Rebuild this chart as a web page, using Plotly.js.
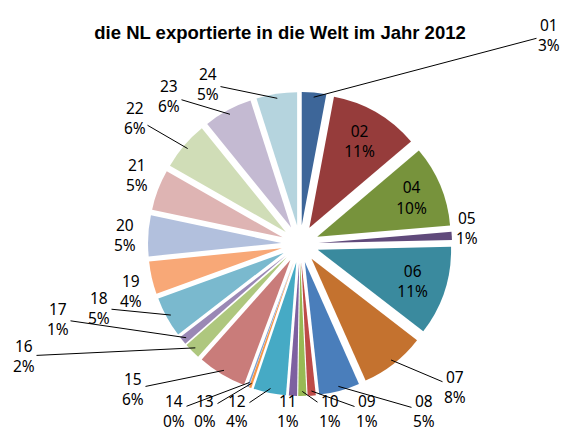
<!DOCTYPE html>
<html>
<head>
<meta charset="utf-8">
<script src="https://cdn.plot.ly/plotly-3.0.1.min.js"></script>
<style>html,body{margin:0;padding:0;background:#fff;}#chart{width:568px;height:429px;}</style>
</head>
<body>
<div id="chart"></div>
<script>
const categories = ["01","02","04","05","06","07","08","09","10","11","12","13","14","15","16","17","18","19","20","21","22","23","24"];
const shares = [3, 11, 10, 1, 11, 8, 5, 1, 1, 1, 4, 0.3, 0.2, 6, 2, 1, 5, 4, 5, 5, 6, 6, 5];
const colors = ["#3D6699","#963C3B","#77933C","#604A7B","#3A8A9E","#C4722F","#4A7EBB","#BE4B48","#98B954","#7D60A0","#46AAC5","#F79646","#7E9ECF","#C97C7A","#AEC77E","#9A88B5","#7AB9CE","#F8A877","#B2C0DD","#DEB4B3","#D0DDB7","#C4BAD2","#B5D4DE"];
const insideSet = ["02","04","06"];

// placement of the outside data labels (label centre in px, leader line yes/no)
const labelPlacement = {
  "01": [549, 35, true],  "05": [467, 228, false], "07": [455, 387, true], "08": [424, 411, true],
  "09": [367, 411, true], "10": [330, 411, true],  "11": [288, 411, true], "12": [237, 411, true],
  "13": [205, 411, true], "14": [174, 411, true],  "15": [133, 389, true], "16": [24, 356, true],
  "17": [58, 319, true],  "18": [99, 308, true],   "19": [131, 291, false], "20": [125, 235, false],
  "21": [137, 175, false], "22": [135, 118, true], "23": [169, 96, true],  "24": [208, 84, true]
};

const W = 568, H = 429;
const M = {l: 148, r: 116, t: 92, b: 33};
const PULL = 0.14;
const FONT = "Noto Sans, sans-serif";
const FS = 15.5;

const data = [{
  type: "pie",
  labels: categories,
  values: shares,
  sort: false,
  direction: "clockwise",
  rotation: 0,
  pull: categories.map(() => PULL),
  marker: {colors: colors, line: {width: 0}},
  texttemplate: "%{label}<br>%{percent:.0%}",
  textposition: categories.map(c => insideSet.includes(c) ? "inside" : "none"),
  insidetextfont: {family: FONT, size: FS, color: "#000"},
  insidetextorientation: "horizontal",
  showlegend: false,
  hoverinfo: "none"
}];

// outside labels as annotations, leader lines anchored to each slice's outer edge
const pw = W - M.l - M.r, ph = H - M.t - M.b;
const cx = M.l + pw / 2, cy = M.t + ph / 2;
const R = Math.min(pw, ph) / 2 * 0.97;
const total = shares.reduce((a, b) => a + b, 0);
const toPaper = (px, py) => [(px - M.l) / pw, (H - M.b - py) / ph];
let cum = 0;
const annotations = [];
categories.forEach((c, i) => {
  const mid = (cum + shares[i] / 2) / total;
  cum += shares[i];
  const place = labelPlacement[c];
  if (!place) return;
  const text = c + "<br>" + Math.round(shares[i] / total * 100) + "%";
  const font = {family: FONT, size: FS, color: "#000"};
  if (place[2]) {
    const th = 2 * Math.PI * mid;
    const tx = cx + R * Math.sin(th), ty = cy - R * Math.cos(th);
    const [x, y] = toPaper(tx, ty);
    annotations.push({xref: "paper", yref: "paper", x, y,
      ax: place[0] - tx, ay: place[1] - ty, axref: "pixel", ayref: "pixel",
      text, showarrow: true, arrowhead: 0, arrowwidth: 1, arrowcolor: "#000", standoff: 0, font});
  } else {
    const [x, y] = toPaper(place[0], place[1]);
    annotations.push({xref: "paper", yref: "paper", x, y, xanchor: "center", yanchor: "middle",
      text, showarrow: false, font});
  }
});

const layout = {
  width: W, height: H,
  margin: M,
  paper_bgcolor: "#fff",
  title: {text: "die NL exportierte in die Welt im Jahr 2012", x: 0.493, xanchor: "center", y: 0.925, yanchor: "middle",
          font: {family: "Liberation Sans, Arial, sans-serif", size: 18.5, color: "#000", weight: "bold"}},
  showlegend: false,
  annotations: annotations
};
Plotly.newPlot("chart", data, layout, {staticPlot: true});
</script>
</body>
</html>
